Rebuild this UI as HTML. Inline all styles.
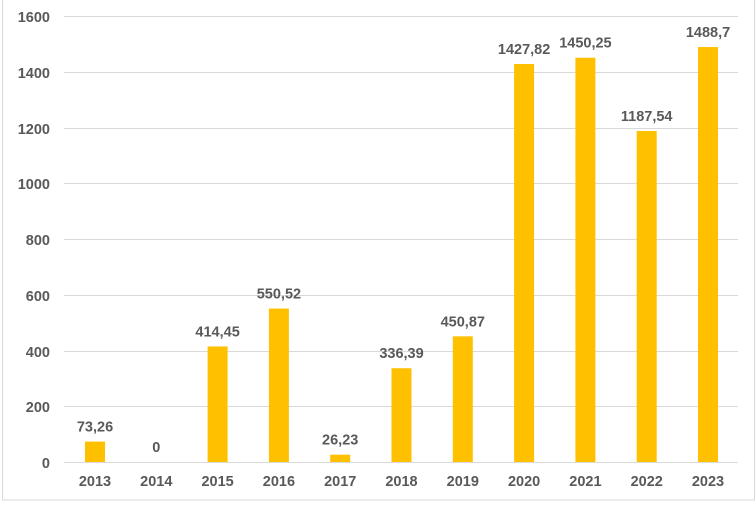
<!DOCTYPE html><html><head><style>body{margin:0;background:#fff}</style></head><body>
<svg width="756" height="501" xmlns="http://www.w3.org/2000/svg" font-family="Liberation Sans, sans-serif" font-weight="bold" font-size="14.5" fill="#595959">
<rect x="2.5" y="-1" width="752" height="501" fill="none" stroke="#d9d9d9"/>
<g stroke="#d9d9d9" stroke-width="1">
<line x1="64" x2="738" y1="16.5" y2="16.5"/><line x1="64" x2="738" y1="72.5" y2="72.5"/><line x1="64" x2="738" y1="128.5" y2="128.5"/><line x1="64" x2="738" y1="183.5" y2="183.5"/><line x1="64" x2="738" y1="239.5" y2="239.5"/><line x1="64" x2="738" y1="295.5" y2="295.5"/><line x1="64" x2="738" y1="351.5" y2="351.5"/><line x1="64" x2="738" y1="406.5" y2="406.5"/><line x1="64" x2="738" y1="462.5" y2="462.5"/>
</g>
<g text-anchor="end">
<text x="50" y="22">1600</text><text x="50" y="78">1400</text><text x="50" y="134">1200</text><text x="50" y="189">1000</text><text x="50" y="245">800</text><text x="50" y="301">600</text><text x="50" y="357">400</text><text x="50" y="412">200</text><text x="50" y="468">0</text>
</g>
<g fill="#ffc000" id="bars"></g>
<g text-anchor="middle" id="lbl"></g>
</svg>
<script>
var v=[73.26,0,414.45,550.52,26.23,336.39,450.87,1427.82,1450.25,1187.54,1488.7];
var s=["73,26","0","414,45","550,52","26,23","336,39","450,87","1427,82","1450,25","1187,54","1488,7"];
var b=document.getElementById('bars'),l=document.getElementById('lbl'),ns="http://www.w3.org/2000/svg";
v.forEach(function(d,i){var cx=95+i*61.3,h=d*446/1600;
var r=document.createElementNS(ns,'rect');r.setAttribute('x',cx-10);r.setAttribute('y',462-h);r.setAttribute('width',20);r.setAttribute('height',h);b.appendChild(r);
var t=document.createElementNS(ns,'text');t.setAttribute('x',cx);t.setAttribute('y',462-h-10);t.textContent=s[i];l.appendChild(t);
var y=document.createElementNS(ns,'text');y.setAttribute('x',cx);y.setAttribute('y',486);y.textContent=2013+i;l.appendChild(y);});
</script>
</body></html>
